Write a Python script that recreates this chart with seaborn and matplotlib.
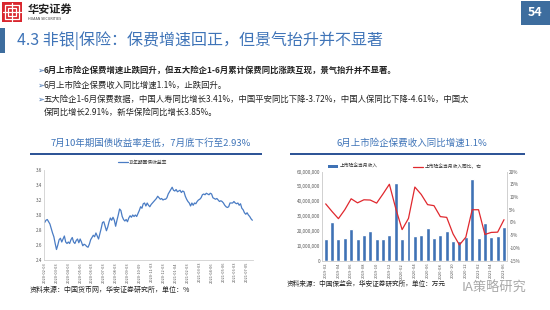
import numpy as np
import pandas as pd
import matplotlib
matplotlib.use("Agg")
import matplotlib.pyplot as plt
import seaborn as sns
from matplotlib.patches import Rectangle
from matplotlib.lines import Line2D
from matplotlib.ticker import FuncFormatter

# ---------------- data ----------------
yield_10y = [2.90, 2.93, 2.94, 2.91, 2.88, 2.82, 2.76, 2.71, 2.62, 2.54, 2.60, 2.67, 2.69, 2.64,
             2.68, 2.72, 2.64, 2.62, 2.64, 2.62, 2.67, 2.70, 2.64, 2.62, 2.66, 2.68, 2.63, 2.68,
             2.64, 2.59, 2.61, 2.60, 2.58, 2.57, 2.61, 2.67, 2.70, 2.73, 2.71, 2.76, 2.72, 2.68,
             2.75, 2.82, 2.90, 2.91, 2.85, 2.79, 2.84, 2.91, 2.96, 2.93, 2.97, 2.93, 2.85, 2.93,
             3.00, 3.08, 3.06, 2.98, 2.94, 2.92, 2.94, 2.91, 2.96, 2.99, 2.97, 3.00, 2.98, 3.00,
             2.98, 3.02, 3.06, 3.11, 3.09, 3.15, 3.16, 3.12, 3.16, 3.13, 3.11, 3.14, 3.16, 3.18,
             3.20, 3.22, 3.25, 3.23, 3.21, 3.22, 3.20, 3.21, 3.21, 3.23, 3.28, 3.31, 3.34, 3.37,
             3.33, 3.32, 3.34, 3.31, 3.32, 3.33, 3.30, 3.32, 3.31, 3.25, 3.21, 3.18, 3.16, 3.12,
             3.16, 3.13, 3.16, 3.15, 3.18, 3.20, 3.21, 3.23, 3.27, 3.28, 3.27, 3.29, 3.28, 3.27,
             3.29, 3.28, 3.23, 3.22, 3.21, 3.22, 3.20, 3.18, 3.19, 3.18, 3.16, 3.13, 3.11, 3.10,
             3.11, 3.16, 3.16, 3.16, 3.18, 3.16, 3.15, 3.16, 3.13, 3.15, 3.09, 3.07, 3.03, 3.01,
             3.03, 3.00, 2.98, 2.95, 2.93]
yield_ticklabels = ["2020-02-03", "2020-03-03", "2020-04-03", "2020-05-06", "2020-06-03",
                    "2020-07-03", "2020-08-03", "2020-09-03", "2020-10-09", "2020-11-03",
                    "2020-12-03", "2021-01-04", "2021-02-03", "2021-03-03", "2021-04-06",
                    "2021-05-06", "2021-06-03", "2021-07-05"]

months = ["2019-02", "2019-03", "2019-04", "2019-05", "2019-06", "2019-07", "2019-08", "2019-09",
          "2019-10", "2019-11", "2019-12", "2020-01", "2020-02", "2020-03", "2020-04", "2020-05",
          "2020-06", "2020-07", "2020-08", "2020-09", "2020-10", "2020-11", "2020-12", "2021-01",
          "2021-02", "2021-03", "2021-04", "2021-05", "2021-06"]
premium = [14.5e6, 26.0e6, 14.5e6, 15.0e6, 21.0e6, 14.5e6, 17.0e6, 20.0e6, 14.5e6, 14.5e6,
           17.0e6, 52.0e6, 14.5e6, 27.0e6, 16.5e6, 17.0e6, 22.0e6, 15.0e6, 17.5e6, 20.0e6,
           13.5e6, 13.0e6, 16.0e6, 55.0e6, 15.0e6, 25.5e6, 16.0e6, 16.5e6, 22.5e6]
premium_yoy = [7.3, 4.3, 1.5, 5.0, 9.3, 7.7, 8.9, 8.8, 7.6, 11.2, 15.0, 5.5, -2.8, 1.6, 13.9,
               11.0, 7.0, 6.6, 2.3, 2.0, -4.5, -8.8, -5.8, 5.0, 5.0, -4.7, -3.9, -3.8, 1.1]

W, H = 550, 310
sns.set_theme(style="white")
plt.rcParams["font.family"] = ["Noto Sans CJK SC", "DejaVu Sans"]
plt.rcParams["axes.unicode_minus"] = False

fig = plt.figure(figsize=(W / 100, H / 100), dpi=100)
fig.patch.set_facecolor("white")

def T(x, y, s, **kw):
    kw.setdefault("va", "center")
    fig.text(x / W, 1 - y / H, s, **kw)

def R(x, y, w, h, **kw):
    fig.add_artist(Rectangle((x / W, 1 - (y + h) / H), w / W, h / H,
                             transform=fig.transFigure, **kw))

def L(x0, y0, x1, y1, **kw):
    fig.add_artist(Line2D([x0 / W, x1 / W], [1 - y0 / H, 1 - y1 / H],
                          transform=fig.transFigure, **kw))

BLUE_T = "#3f74b8"
DARK_B = "#2f5597"

# ---------- header ----------
R(2, 2, 20, 20, color="#d9262e", lw=0)
for (x0, y0, x1, y1) in [(5, 5, 19, 5), (5, 19, 19, 19), (5, 5, 5, 19), (19, 5, 19, 19),
                         (8, 8, 16, 8), (8, 16, 16, 16), (8, 8, 8, 16), (16, 8, 16, 16),
                         (12, 3, 12, 21), (3, 12, 21, 12)]:
    L(x0, y0, x1, y1, color="white", lw=0.9)
T(28, 9, "华安证券", fontsize=8, color="#222222", fontweight="bold")
T(28, 19, "HUAAN SECURITIES", fontsize=2.6, color="#333333")
R(521, 1, 29, 24, color="#3d6d9e", lw=0)
T(535.5, 13, "54", fontsize=9, color="white", fontweight="bold", ha="center")
R(0, 28, 5, 25, color="#3d6d9e", lw=0)
T(17, 41, "4.3 非银|保险：保费增速回正，但景气抬升并不显著", fontsize=11.5, color=BLUE_T)

# ---------- bullets ----------
arrow_kw = dict(fontsize=6, color="#3f6fb0", family=["DejaVu Sans"])
txt_kw = dict(fontsize=6, color="#222222")
T(37, 70, "➢", **arrow_kw)
T(44, 70, "6月上市险企保费增速止跌回升，但五大险企1-6月累计保费同比涨跌互现，景气抬升并不显著。",
  fontweight="bold", **txt_kw)
T(37, 85, "➢", **arrow_kw)
T(44, 85, "6月上市险企保费收入同比增速1.1%，止跌回升。", **txt_kw)
T(37, 99, "➢", **arrow_kw)
T(44, 99, "五大险企1-6月保费数据，中国人寿同比增长3.41%，中国平安同比下降-3.72%，中国人保同比下降-4.61%，中国太",
  **txt_kw)
T(44, 112, "保同比增长2.91%，新华保险同比增长3.85%。", **txt_kw)

# ---------- chart titles ----------
T(151, 143, "7月10年期国债收益率走低，7月底下行至2.93%", fontsize=6.8, color=BLUE_T, ha="center")
R(30, 153, 232, 2.2, color=DARK_B, lw=0)
T(412, 143, "6月上市险企保费收入同比增速1.1%", fontsize=6.8, color=BLUE_T, ha="center")
R(290, 153, 235, 2.2, color=DARK_B, lw=0)

# ---------- left chart ----------
tick_col = "#555555"
spine_col = "#d0d0d0"
n = len(yield_10y)
df_y = pd.DataFrame({"idx": np.arange(n), "val": yield_10y})
ax1 = fig.add_axes([44 / W, 1 - 260 / H, (253 - 44) / W, (260 - 170) / H])
sns.lineplot(data=df_y, x="idx", y="val", ax=ax1, color="#4a7cc4", lw=0.9)
ax1.set_xlim(-0.5, n - 0.5)
ax1.set_ylim(2.4, 3.6)
ax1.set_yticks(np.arange(2.4, 3.61, 0.2))
ax1.set_yticklabels([f"{v:.1f}" for v in np.arange(2.4, 3.61, 0.2)])
tpos = np.linspace(0, (n - 1) * 0.975, len(yield_ticklabels))
ax1.set_xticks(tpos)
ax1.set_xticklabels(yield_ticklabels, rotation=90)
ax1.tick_params(axis="y", labelsize=3.3, colors=tick_col, length=0, pad=1.5)
ax1.tick_params(axis="x", labelsize=2.8, colors=tick_col, length=0, pad=1.5)
ax1.set_xlabel("")
ax1.set_ylabel("")
for s in ["top", "right"]:
    ax1.spines[s].set_visible(False)
for s in ["left", "bottom"]:
    ax1.spines[s].set_color(spine_col)
    ax1.spines[s].set_linewidth(0.6)
L(118, 162, 128, 162, color="#4a7cc4", lw=0.9)
T(129, 162, "10年期国债收益率", fontsize=3.4, color="#333333")
T(30, 290, "资料来源：中国货币网，华安证券研究所，单位：%", fontsize=5, color="#222222")

# ---------- right chart ----------
df_p = pd.DataFrame({"month": months, "premium": premium, "yoy": premium_yoy,
                     "idx": np.arange(len(months))})
ax2 = fig.add_axes([322.5 / W, 1 - 260.7 / H, 184.7 / W, (260.7 - 171.5) / H])
sns.barplot(data=df_p, x="month", y="premium", ax=ax2, color="#3f72b5", width=0.62,
            saturation=1)
ax2.set_ylim(0, 60e6)
ax2.set_yticks(np.arange(0, 60e6 + 1, 10e6))
ax2.yaxis.set_major_formatter(FuncFormatter(lambda v, p: f"{int(v):,}"))
ax2.set_xticks(np.arange(0, len(months), 2))
ax2.set_xticklabels(months[::2], rotation=90)
ax2.set_xlim(-0.5, len(months) - 0.5)
ax2.tick_params(axis="y", labelsize=3.3, colors=tick_col, length=0, pad=1.5)
ax2.tick_params(axis="x", labelsize=3.0, colors=tick_col, length=0, pad=1.5)
ax2.set_xlabel("")
ax2.set_ylabel("")
ax3 = ax2.twinx()
sns.lineplot(data=df_p, x="idx", y="yoy", ax=ax3, color="#e0282e", lw=0.9)
ax3.set_ylim(-15, 20)
ax3.set_yticks(np.arange(-15, 21, 5))
ax3.yaxis.set_major_formatter(FuncFormatter(lambda v, p: f"{int(v)}%"))
ax3.tick_params(axis="y", labelsize=3.3, colors=tick_col, length=0, pad=1.5)
ax3.set_ylabel("")
ax3.set_xlim(-0.5, len(months) - 0.5)
for a in (ax2, ax3):
    a.spines["top"].set_visible(False)
    for s in ["left", "right", "bottom"]:
        a.spines[s].set_color(spine_col)
        a.spines[s].set_linewidth(0.6)
R(328, 165, 10, 3, color="#3f72b5", lw=0)
T(340, 166.5, "上市险企当月收入", fontsize=3.4, color="#333333")
L(413, 166.5, 423, 166.5, color="#e0282e", lw=0.9)
T(425, 166.5, "上市险企当月收入同比，右", fontsize=3.4, color="#333333")
T(287, 284, "资料来源：中国保监会，华安证券研究所，单位：万元", fontsize=4.8, color="#222222")
T(462, 288, "IA策略研究", fontsize=9.5, color="#9a9a9a", alpha=0.85)

fig.savefig("out.png", dpi=100, facecolor="white")
